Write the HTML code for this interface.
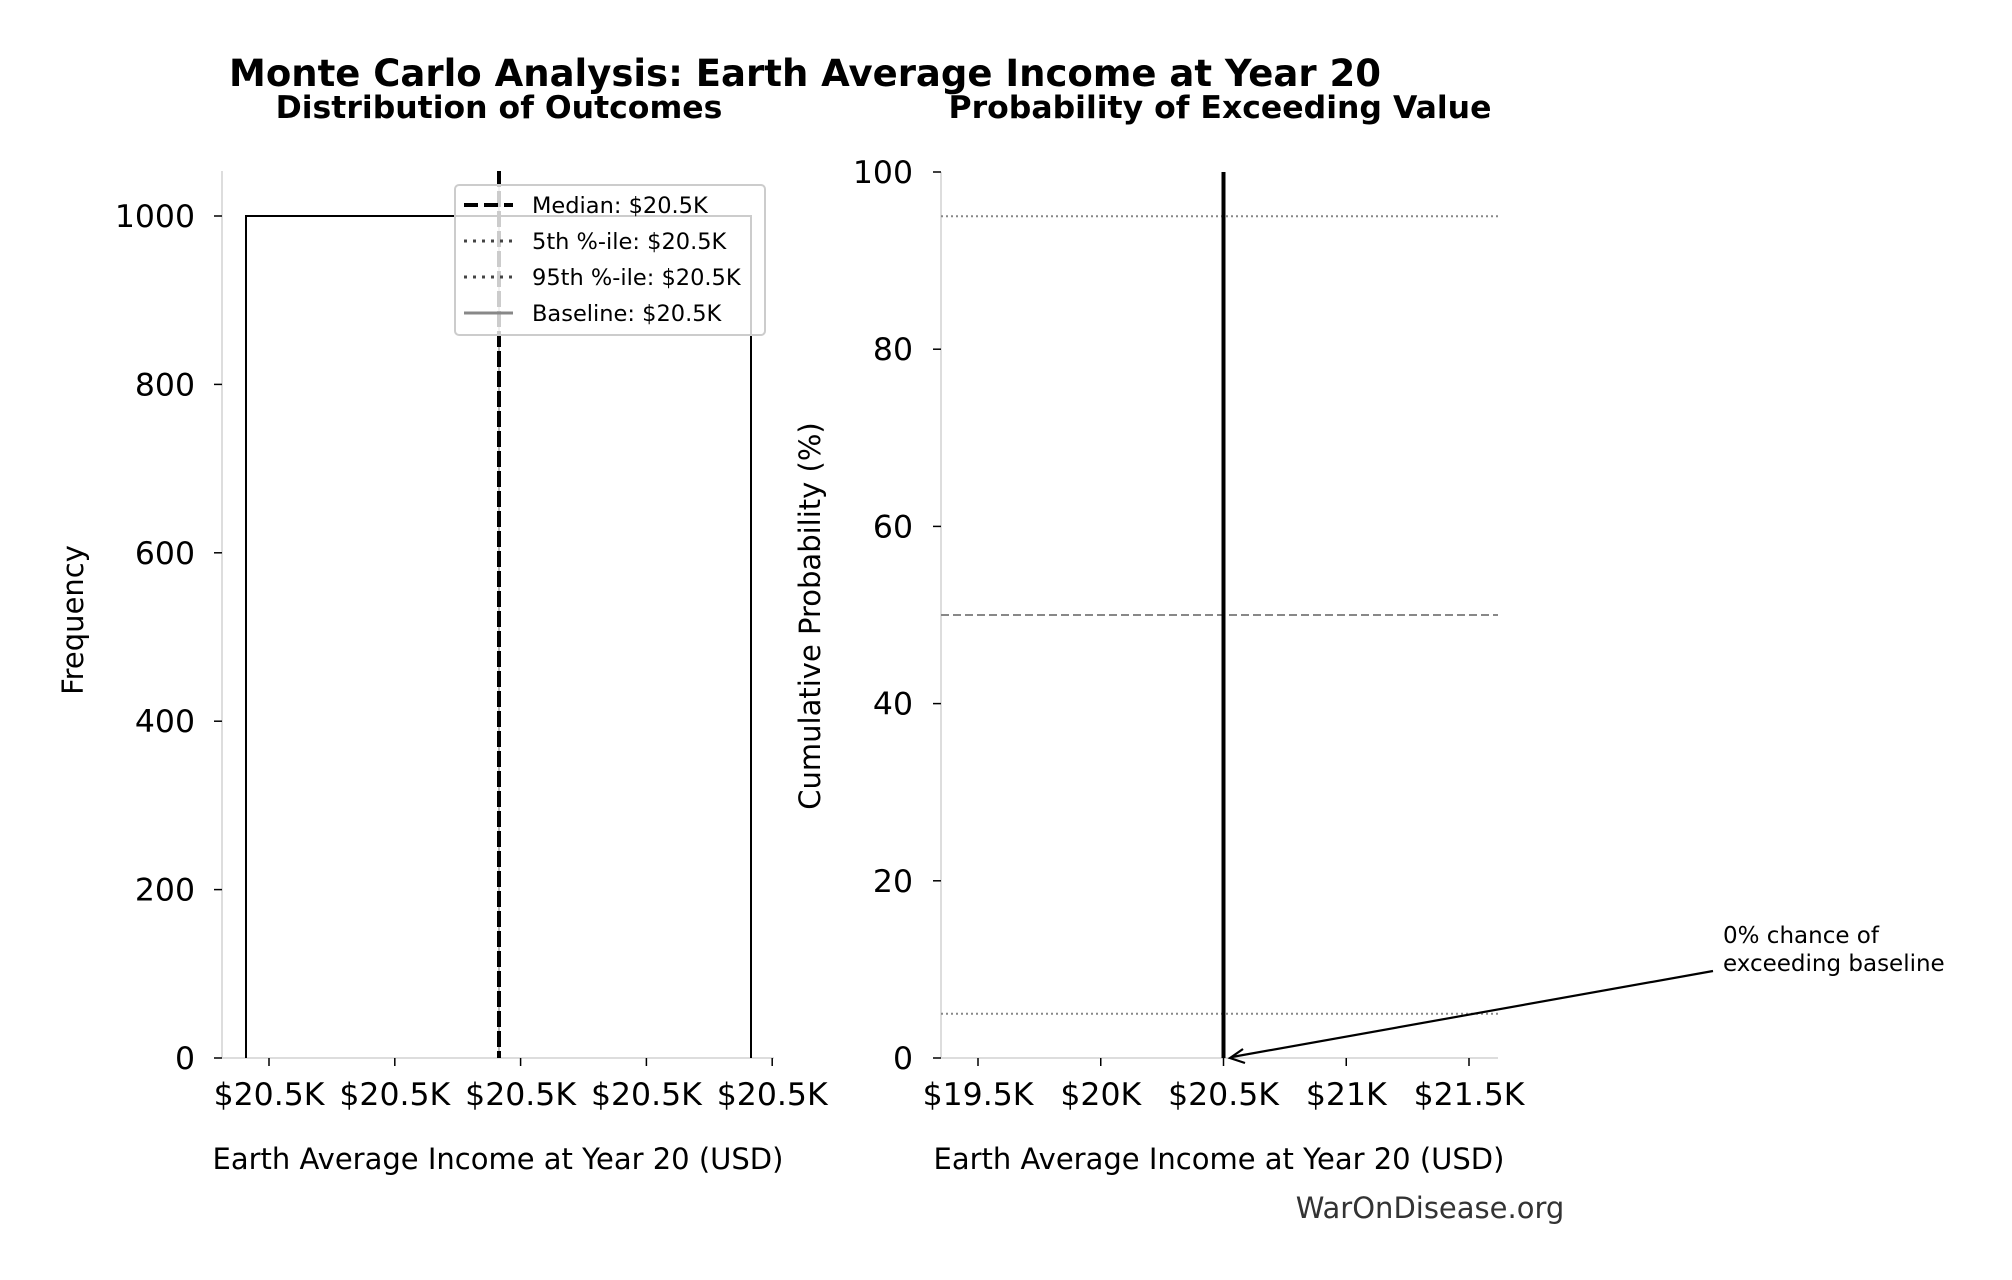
<!DOCTYPE html>
<html><head><meta charset="utf-8"><style>
html,body{margin:0;padding:0;background:#fff;}
svg{display:block;font-family:"DejaVu Sans","Liberation Sans",sans-serif;}
</style></head><body>
<svg id="chart" width="2012" height="1280" viewBox="0 0 2012 1280" xmlns="http://www.w3.org/2000/svg">
<rect width="2012" height="1280" fill="#fff"/>
<text x="805" y="86" text-anchor="middle" font-size="37" font-weight="bold">Monte Carlo Analysis: Earth Average Income at Year 20</text>
<text x="499" y="118" text-anchor="middle" font-size="31.5" font-weight="bold">Distribution of Outcomes</text>
<text x="1220" y="118" text-anchor="middle" font-size="31.5" font-weight="bold">Probability of Exceeding Value</text>
<g id="left"></g>
<g id="right"></g>
<text x="1723" y="943" font-size="23">0% chance of</text>
<text x="1723" y="971" font-size="23">exceeding baseline</text>
<line x1="1713" y1="971" x2="1232" y2="1057" stroke="#000" stroke-width="2.2"/>
<polyline points="1243,1049 1230,1058 1245,1063" fill="none" stroke="#000" stroke-width="2.2"/>
<text x="1430" y="1218" text-anchor="middle" font-size="29" fill="#333">WarOnDisease.org</text>
</svg>
<script>
const histBins = [20500];
const histCounts = [1000];
const leftYTicks = [0, 200, 400, 600, 800, 1000];
const leftXTickLabels = ["$20.5K", "$20.5K", "$20.5K", "$20.5K", "$20.5K"];
const medianValue = 20500;
const legendLabels = ["Median: $20.5K", "5th %-ile: $20.5K", "95th %-ile: $20.5K", "Baseline: $20.5K"];
const rightXTicks = [19500, 20000, 20500, 21000, 21500];
const rightXTickLabels = ["$19.5K", "$20K", "$20.5K", "$21K", "$21.5K"];
const rightYTicks = [0, 20, 40, 60, 80, 100];
const cdfValues = [20500, 20500];
const cdfProbs = [0, 100];
const refLevels = [95, 50, 5];

const NS = "http://www.w3.org/2000/svg";
function mk(parent, tag, attrs, text) {
  const e = document.createElementNS(NS, tag);
  for (const k in attrs) e.setAttribute(k, attrs[k]);
  if (text !== undefined) e.textContent = text;
  parent.appendChild(e);
  return e;
}
const TICK_FS = 31.5;
// LEFT panel
const L = document.getElementById('left');
const lx0 = 222, lx1 = 774, ly0 = 1058, lyTop = 171;
const ly = v => ly0 - v * (ly0 - 216) / 1000;
const binLeft = 246, binRight = 751;
const lxv = v => binLeft + (v - (histBins[0] - 0.5)) * (binRight - binLeft);
let e;
e = mk(L, 'line', {x1: lx0, y1: lyTop, x2: lx0, y2: ly0, stroke: '#ddd', 'stroke-width': 2});
 
e = mk(L, 'line', {x1: lx0, y1: ly0, x2: lx1, y2: ly0, stroke: '#ddd', 'stroke-width': 2});
 
histBins.forEach((b, i) => {
  const xa = lxv(b - 0.5), xb = lxv(b + 0.5);
  const r = mk(L, 'polyline', {points: `${xa},${ly0} ${xa},${ly(histCounts[i])} ${xb},${ly(histCounts[i])} ${xb},${ly0}`, fill: 'none', stroke: '#000', 'stroke-width': 2});
  
  
});
leftYTicks.forEach(t => {
  const y = ly(t);
  const tk = mk(L, 'line', {x1: lx0 - 8, y1: y, x2: lx0, y2: y, stroke: '#000', 'stroke-width': 1.5});
   
  const tl = mk(L, 'text', {x: lx0 - 27, y: y + 11, 'text-anchor': 'end', 'font-size': TICK_FS}, String(t));
   
});
leftXTickLabels.forEach((lab, i) => {
  const x = 269 + i * 125.8;
  const tk = mk(L, 'line', {x1: x, y1: ly0, x2: x, y2: ly0 + 8, stroke: '#000', 'stroke-width': 1.5});
   
  const tl = mk(L, 'text', {x: x, y: ly0 + 47, 'text-anchor': 'middle', 'font-size': TICK_FS}, lab);
   
});
const medX = 499;
e = mk(L, 'line', {x1: medX, y1: lyTop, x2: medX, y2: ly0, stroke: '#bbb', 'stroke-width': 2});
 
e = mk(L, 'line', {x1: medX, y1: lyTop, x2: medX, y2: ly0, stroke: '#000', 'stroke-width': 4, 'stroke-dasharray': '16,4'});
 
e = mk(L, 'text', {x: 83, y: 620, 'text-anchor': 'middle', 'font-size': 29, transform: 'rotate(-90 83 620)'}, 'Frequency');
 
e = mk(L, 'text', {x: 498, y: 1169, 'text-anchor': 'middle', 'font-size': 29}, 'Earth Average Income at Year 20 (USD)');
 
// legend
const lg = mk(L, 'g', {});
 
mk(lg, 'rect', {x: 455, y: 185, width: 310, height: 150, rx: 4, fill: 'rgba(255,255,255,0.8)', stroke: '#ccc', 'stroke-width': 2});
const legStyles = [
  {stroke: '#000', w: 4, dash: '14,6'},
  {stroke: '#444', w: 3, dash: '3,6'},
  {stroke: '#444', w: 3, dash: '3,6'},
  {stroke: '#888', w: 3, dash: ''}
];
legendLabels.forEach((lab, i) => {
  const y = 205 + i * 36;
  const s = legStyles[i];
  const ln = mk(lg, 'line', {x1: 464, y1: y, x2: 513, y2: y, stroke: s.stroke, 'stroke-width': s.w, 'stroke-dasharray': s.dash});
   
  const tx = mk(lg, 'text', {x: 532, y: y + 8, 'font-size': 22.5}, lab);
   
});
// RIGHT panel
const R = document.getElementById('right');
const rx0 = 941, rx1 = 1498, ry0 = 1058, ryTop = 172;
const rx = v => 978 + (v - 19500) * (1469 - 978) / 2000;
const ry = v => ry0 - v * (ry0 - ryTop) / 100;
e = mk(R, 'line', {x1: rx0, y1: ryTop, x2: rx0, y2: ry0, stroke: '#ddd', 'stroke-width': 2});
 
e = mk(R, 'line', {x1: rx0, y1: ry0, x2: rx1, y2: ry0, stroke: '#ddd', 'stroke-width': 2});
 
refLevels.forEach(p => {
  const l = mk(R, 'line', {x1: rx0, y1: ry(p), x2: rx1, y2: ry(p), stroke: '#888', 'stroke-width': 2, 'stroke-dasharray': p === 50 ? '8,4' : '2,3'});
   
});
rightYTicks.forEach(t => {
  const y = ry(t);
  const tk = mk(R, 'line', {x1: rx0 - 8, y1: y, x2: rx0, y2: y, stroke: '#000', 'stroke-width': 1.5});
   
  const tl = mk(R, 'text', {x: rx0 - 28, y: y + 11, 'text-anchor': 'end', 'font-size': TICK_FS}, String(t));
   
});
rightXTicks.forEach((t, i) => {
  const x = rx(t);
  const tk = mk(R, 'line', {x1: x, y1: ry0, x2: x, y2: ry0 + 8, stroke: '#000', 'stroke-width': 1.5});
   
  const tl = mk(R, 'text', {x: x, y: ry0 + 47, 'text-anchor': 'middle', 'font-size': TICK_FS}, rightXTickLabels[i]);
   
});
const cdfPts = cdfValues.map((v, i) => rx(v) + ',' + ry(cdfProbs[i])).join(' ');
e = mk(R, 'polyline', {points: cdfPts, fill: 'none', stroke: '#000', 'stroke-width': 4});
 
e = mk(R, 'text', {x: 820, y: 616, 'text-anchor': 'middle', 'font-size': 29, transform: 'rotate(-90 820 616)'}, 'Cumulative Probability (%)');
 
e = mk(R, 'text', {x: 1219, y: 1169, 'text-anchor': 'middle', 'font-size': 29}, 'Earth Average Income at Year 20 (USD)');
 
</script>
</body></html>
